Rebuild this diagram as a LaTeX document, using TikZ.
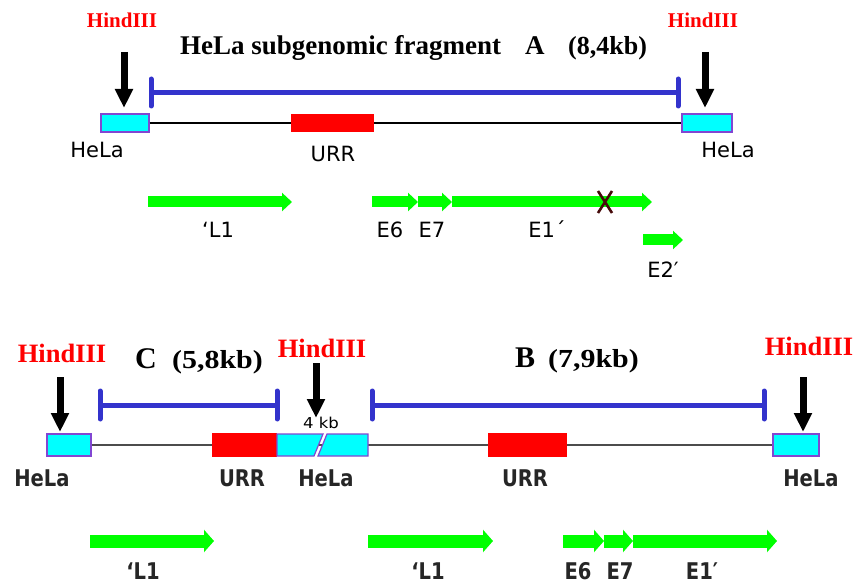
\documentclass[tikz,border=0pt]{standalone}
\usepackage{fontspec}
\setmainfont{Liberation Serif}
\newfontfamily\labelfont{DejaVu Sans}
\usetikzlibrary{arrows.meta}

\definecolor{cutred}{RGB}{255,0,0}
\definecolor{barblue}{RGB}{51,51,204}
\definecolor{helacyan}{RGB}{0,255,255}
\definecolor{helaedge}{RGB}{130,70,210}
\definecolor{genegreen}{RGB}{0,255,0}
\definecolor{urrred}{RGB}{255,0,0}
\definecolor{stopmark}{RGB}{70,10,10}

\tikzset{
  enzsmall/.style={text=cutred, font=\fontsize{21}{24}\selectfont\bfseries, anchor=base, inner sep=0pt},
  enzlarge/.style={text=cutred, font=\fontsize{26.5}{30}\selectfont\bfseries, anchor=base, inner sep=0pt},
  fragtitle/.style={font=\fontsize{27}{30}\selectfont\bfseries, anchor=base west, inner sep=0pt},
  fragsize/.style={font=\fontsize{26}{30}\selectfont\bfseries, anchor=base west, inner sep=0pt},
  lbltop/.style={font=\labelfont\fontsize{21}{24}\selectfont, anchor=base, inner sep=0pt},
  lblbot/.style={font=\labelfont\bfseries\fontsize{23}{26}\selectfont, xscale=0.85, anchor=base, inner sep=0pt, text=black!85},
  cutarrow/.style={line width=7pt, -{Triangle[length=19pt,width=17pt]}},
  spanbar/.style={barblue, line width=5pt},
  spantick/.style={barblue, line width=5pt, line cap=round},
  helabox/.style={fill=helacyan, draw=helaedge, line width=1.2pt, inner sep=0pt},
  urrbox/.style={fill=urrred, inner sep=0pt},
  backbone/.style={line width=1.6pt},
  genetop/.style={genegreen, line width=11pt, -{Triangle[length=10pt,width=18pt]}},
  genebot/.style={genegreen, line width=13pt, -{Triangle[length=10pt,width=22pt]}},
}

\begin{document}
\begin{tikzpicture}[x=1pt, y=-1pt]
\useasboundingbox[fill=white] (0,0) rectangle (855,583);

% ---------------- fragment A ----------------
\node[helabox, minimum width=48pt, minimum height=18pt] (hlA) at (125,123) {};
\node[helabox, minimum width=50pt, minimum height=18pt] (hrA) at (707,123) {};
\draw[backbone] (hlA.east) -- (hrA.west);
\node[urrbox, minimum width=83pt, minimum height=18pt] (urrA) at (332.5,123) {};

\node[lbltop] (hlAlbl) at (97,158) {HeLa};
\node[lbltop] (hrAlbl) at (728,158) {HeLa};
\node[lbltop] (urrAlbl) at (333,162) {URR};

% span of fragment A
\coordinate (sAl) at (151,93);
\coordinate (sAr) at (678,93);
\draw[spanbar] (sAl) -- (sAr);
\draw[spantick] ([yshift=-13pt]sAl) -- ([yshift=14pt]sAl);
\draw[spantick] ([yshift=-13pt]sAr) -- ([yshift=14pt]sAr);

% HindIII sites
\node[enzsmall] (hA1) at (122,28) {HindIII};
\node[enzsmall] (hA2) at (703,28) {HindIII};
\coordinate (cA1a) at (124,52);  \coordinate (cA1b) at (124,108);
\coordinate (cA2a) at (705,52);  \coordinate (cA2b) at (705,108);
\draw[cutarrow] (cA1a) -- (cA1b);
\draw[cutarrow] (cA2a) -- (cA2b);

\node[fragtitle] (tA) at (180,55) {HeLa subgenomic fragment};
\node[fragtitle] (tAl) at (525,55) {A};
\node[fragsize] (tAs) at (568,55) {(8,4kb)};

% open reading frames
\coordinate (gL1a) at (148,202); \coordinate (gL1b) at (292,202);
\coordinate (gE6a) at (372,202); \coordinate (gE6b) at (418,202);
\coordinate (gE7b) at (452,202);
\coordinate (gE1b) at (652,202);
\coordinate (gE2a) at (643,240); \coordinate (gE2b) at (683,240);
\draw[genetop] (gL1a) -- (gL1b);
\draw[genetop] (gE6a) -- (gE6b);
\draw[genetop] (gE6b) -- (gE7b);
\draw[genetop] (gE7b) -- (gE1b);
\draw[genetop] (gE2a) -- (gE2b);
% disrupted E1
\coordinate (xc) at (605,202);
\draw[stopmark, line width=2.6pt] ([shift={(-7,-11)}]xc) -- ([shift={(7,11)}]xc)
      ([shift={(7,-11)}]xc) -- ([shift={(-7,11)}]xc);

\node[lbltop] (lL1) at (218,237) {‘L1};
\node[lbltop] (lE6) at (390,237) {E6};
\node[lbltop] (lE7) at (432,237) {E7};
\node[lbltop] (lE1) at (547,237) {E1´};
\node[lbltop] (lE2) at (663,277) {E2′};

% ---------------- fragments C and B ----------------
\node[helabox, minimum width=44pt, minimum height=22pt] (hlB) at (69,445) {};
\node[helabox, minimum width=46pt, minimum height=22pt] (hrB) at (796,445) {};
\draw[backbone, line width=1.4pt, black!70] (hlB.east) -- (hrB.west);
\node[urrbox, minimum width=65pt, minimum height=24pt] (urrB1) at (244.5,445) {};
\node[urrbox, minimum width=79pt, minimum height=24pt] (urrB2) at (527.5,445) {};
% interrupted HeLa segment (4 kb)
\filldraw[helabox] (277,434) -- (323,434) -- (314,456) -- (277,456) -- cycle;
\filldraw[helabox] (327,434) -- (368,434) -- (368,456) -- (318,456) -- cycle;
\node[font=\labelfont\fontsize{15}{17}\selectfont, xscale=1.1, anchor=base, inner sep=0pt] (kb) at (321,428) {4 kb};

\node[lblbot] (hlBlbl) at (42,486) {HeLa};
\node[lblbot] (urrB1lbl) at (242,486) {URR};
\node[lblbot] (hmBlbl) at (326,486) {HeLa};
\node[lblbot] (urrB2lbl) at (525,486) {URR};
\node[lblbot] (hrBlbl) at (811,486) {HeLa};

% spans of fragments C and B
\coordinate (sCl) at (100,405); \coordinate (sCr) at (277,405);
\coordinate (sBl) at (372,405); \coordinate (sBr) at (764,405);
\draw[spanbar] (sCl) -- (sCr);
\draw[spanbar] (sBl) -- (sBr);
\foreach \p in {sCl,sCr,sBl,sBr}
  \draw[spantick] ([yshift=-14pt]\p) -- ([yshift=14pt]\p);

% HindIII sites
\node[enzlarge] (hB1) at (62,362) {HindIII};
\node[enzlarge] (hB2) at (322,357) {HindIII};
\node[enzlarge] (hB3) at (809,355) {HindIII};
\coordinate (cB1a) at (60,377);  \coordinate (cB1b) at (60,432);
\coordinate (cB2a) at (316,363); \coordinate (cB2b) at (316,418);
\coordinate (cB3a) at (803,377); \coordinate (cB3b) at (803,432);
\draw[cutarrow] (cB1a) -- (cB1b);
\draw[cutarrow] (cB2a) -- (cB2b);
\draw[cutarrow] (cB3a) -- (cB3b);

\node[fragtitle, font=\fontsize{30}{32}\selectfont\bfseries] (tC) at (135,368) {C};
\node[fragsize, xscale=1.15] (tCs) at (172,368) {(5,8kb)};
\node[fragtitle, font=\fontsize{30}{32}\selectfont\bfseries] (tB) at (515,367) {B};
\node[fragsize, xscale=1.15] (tBs) at (548,367) {(7,9kb)};

% open reading frames
\coordinate (bL1a) at (90,541);  \coordinate (bL1b) at (214,541);
\coordinate (bL2a) at (368,541); \coordinate (bL2b) at (493,541);
\coordinate (bE6a) at (563,541); \coordinate (bE6b) at (604,541);
\coordinate (bE7b) at (633,541);
\coordinate (bE1b) at (777,541);
\draw[genebot] (bL1a) -- (bL1b);
\draw[genebot] (bL2a) -- (bL2b);
\draw[genebot] (bE6a) -- (bE6b);
\draw[genebot] (bE6b) -- (bE7b);
\draw[genebot] (bE7b) -- (bE1b);

\node[lblbot] (bl1) at (143,579) {‘L1};
\node[lblbot] (bl2) at (428,579) {‘L1};
\node[lblbot] (bl6) at (578,579) {E6};
\node[lblbot] (bl7) at (620,579) {E7};
\node[lblbot] (bl1e) at (702,579) {E1′};
\end{tikzpicture}
\end{document}
